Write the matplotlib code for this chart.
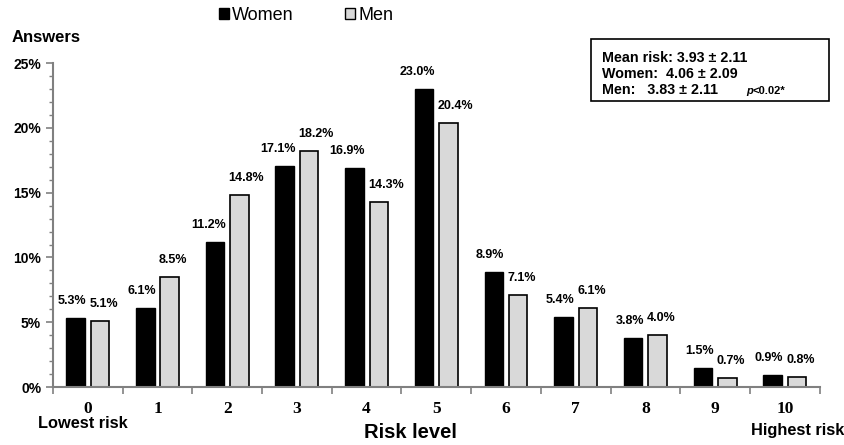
import matplotlib
matplotlib.use("Agg")
import matplotlib.pyplot as plt
from matplotlib.patches import Patch, Rectangle
from matplotlib.ticker import MultipleLocator, FuncFormatter
import numpy as np

categories = ["0", "1", "2", "3", "4", "5", "6", "7", "8", "9", "10"]
women = [5.3, 6.1, 11.2, 17.1, 16.9, 23.0, 8.9, 5.4, 3.8, 1.5, 0.9]
men = [5.1, 8.5, 14.8, 18.2, 14.3, 20.4, 7.1, 6.1, 4.0, 0.7, 0.8]
yticks = [0, 5, 10, 15, 20, 25]

plt.rcParams['font.family'] = ['Liberation Sans', 'DejaVu Sans']
fig = plt.figure(figsize=(8.45, 4.45), dpi=100)
ax = fig.add_axes([0.0627, 0.1303, 0.9073, 0.7277])

x = np.arange(len(categories))
w = 0.265
off = 0.175
ax.bar(x - off, women, w, color="black", edgecolor="black", linewidth=1)
ax.bar(x + off, men, w, color="#d9d9d9", edgecolor="black", linewidth=1.2)

wl, ml = [], []
for xi, v in zip(x, women):
    wl.append(ax.text(xi - off, v + 0.85, f"{v:.1f}%", ha="center", va="bottom",
                      fontsize=9, fontweight="bold"))
for xi, v in zip(x, men):
    ml.append(ax.text(xi + off, v + 0.85, f"{v:.1f}%", ha="center", va="bottom",
                      fontsize=9, fontweight="bold"))

ax.set_xlim(-0.5, len(categories) - 0.5)
ax.set_ylim(0, 25)
ax.set_yticks(yticks)
ax.yaxis.set_minor_locator(MultipleLocator(1))
ax.yaxis.set_major_formatter(FuncFormatter(lambda v, p: f"{int(v)}%"))
for lab in ax.get_yticklabels():
    lab.set_fontweight("bold")
    lab.set_fontsize(10)

ax.set_xticks(x)
ax.set_xticklabels(categories, family="Liberation Serif", fontweight="bold", fontsize=12.5)
ax.set_xticks(np.arange(-0.5, len(categories), 1.0), minor=True)
ax.tick_params(axis="x", which="major", length=0, pad=10)
ax.tick_params(axis="x", which="minor", length=5, direction="out", color="#808080", width=1.2)
ax.tick_params(axis="y", which="major", length=5, color="#808080", width=1.2)
ax.tick_params(axis="y", which="minor", length=3, color="#808080", width=1)

for s in ["top", "right"]:
    ax.spines[s].set_visible(False)
for s in ["left", "bottom"]:
    ax.spines[s].set_color("#808080")
    ax.spines[s].set_linewidth(1.5)

# nudge paired value labels apart horizontally so they never touch
fig.canvas.draw()
r = fig.canvas.get_renderer()
px_per_unit = ax.transData.transform((1, 0))[0] - ax.transData.transform((0, 0))[0]
for tw, tm in zip(wl, ml):
    bw = tw.get_window_extent(r)
    bm = tm.get_window_extent(r)
    if bw.x1 + 3 > bm.x0:
        shift = (bw.x1 + 3 - bm.x0) / 2 / px_per_unit
        xw, yw = tw.get_position()
        xm, ym = tm.get_position()
        tw.set_position((xw - shift, yw))
        tm.set_position((xm + shift, ym))

fig.text(12/845, 1 - 37/445, "Answers", fontsize=12, fontweight="bold", va="center", ha="left")
fig.text(410/845, 1 - 433/445, "Risk level", fontsize=14.5, fontweight="bold", va="center", ha="center")
fig.text(83/845, 1 - 423/445, "Lowest risk", fontsize=11.8, fontweight="bold", va="center", ha="center")
fig.text(844/845, 1 - 430/445, "Highest risk", fontsize=11.8, fontweight="bold", va="center", ha="right")

handles = [Patch(facecolor="black", edgecolor="black"),
           Patch(facecolor="#d9d9d9", edgecolor="black")]
fig.legend(handles, ["Women", "Men"], loc="center", bbox_to_anchor=(306/845, 1 - 15/445),
           ncol=2, frameon=False, fontsize=13, handlelength=0.55, handleheight=0.55,
           handletextpad=0.2, columnspacing=2.8, borderpad=0, borderaxespad=0)

box_text = "Mean risk: 3.93 \u00b1 2.11\nWomen:  4.06 \u00b1 2.09\nMen:   3.83 \u00b1 2.11"
fig.text(602/845, 1 - 74/445, box_text, fontsize=10.3, fontweight="bold", va="center", ha="left",
         linespacing=1.2)
fig.text(746/845, 1 - 91/445, "p", fontsize=8, fontweight="bold", style="italic", va="center")
fig.text(753/845, 1 - 91/445, "<0.02*", fontsize=8, fontweight="bold", va="center")
fig.patches.append(Rectangle((591/845, 1 - 101/445), 238/845, 62/445, transform=fig.transFigure,
                             fill=False, edgecolor="black", linewidth=1.2))

fig.savefig("out.png", dpi=100)
